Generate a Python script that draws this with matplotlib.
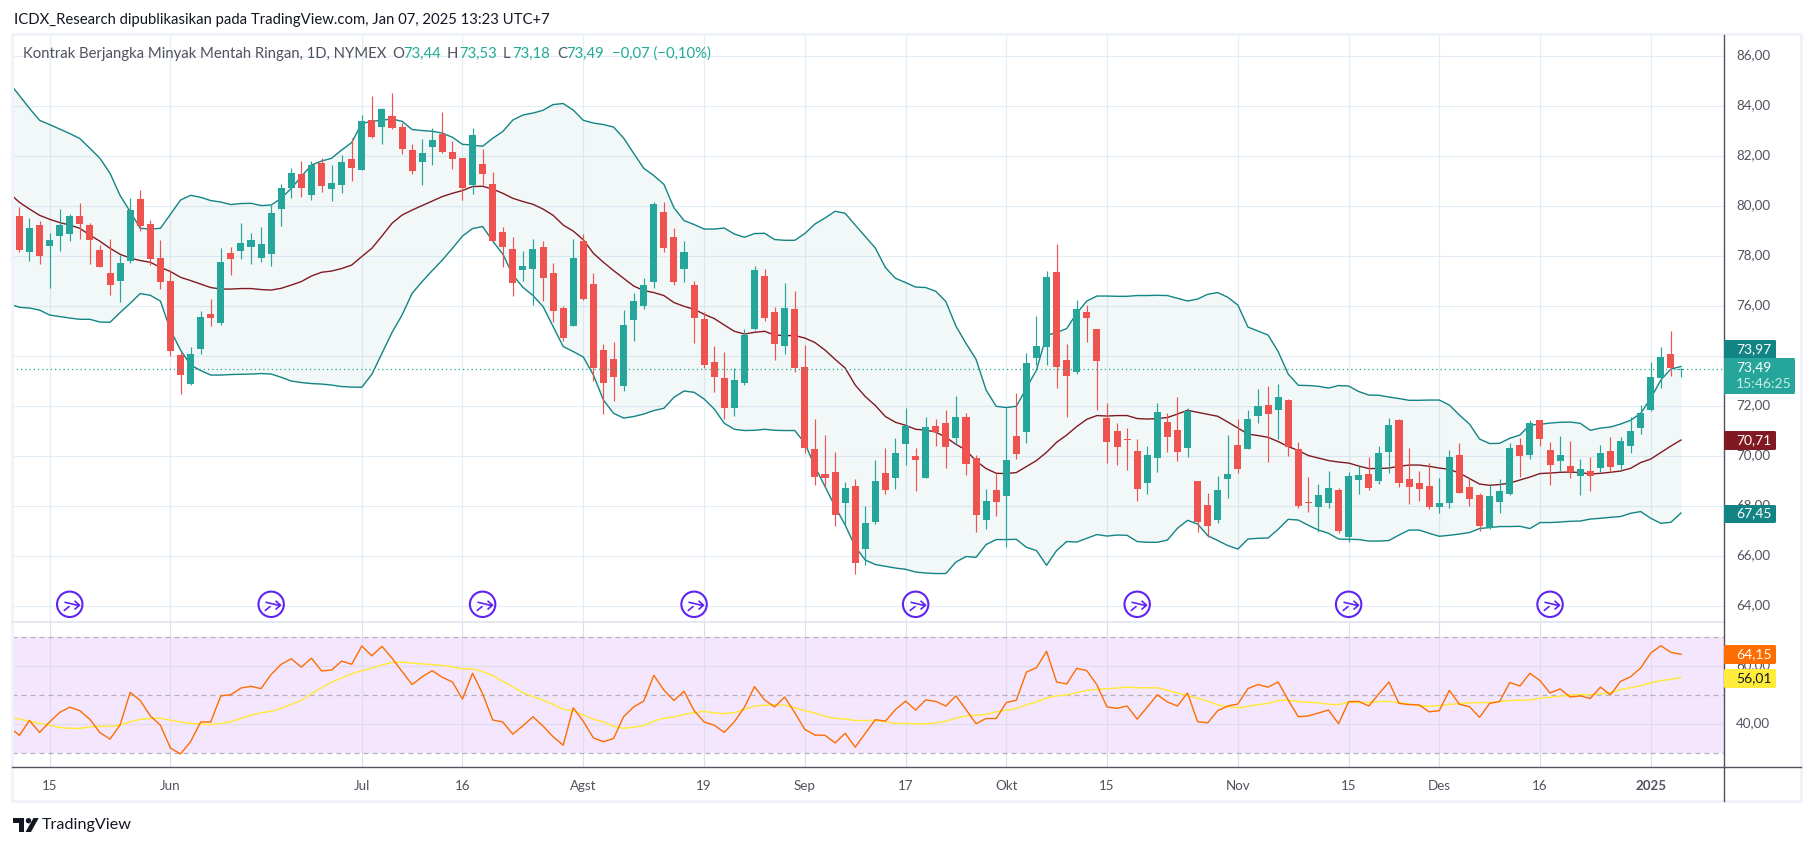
import matplotlib
matplotlib.use("Agg")
import matplotlib.pyplot as plt
from matplotlib.path import Path
from matplotlib.patches import Rectangle, FancyBboxPatch, Polygon, Circle
from matplotlib.transforms import ScaledTranslation
import numpy as np

# Daily candles, one value per trading day from May 10 2024 to Jan 7 2025.
opens = [
  79.61, 78.19, 79.25, 78.41, 78.81, 78.89, 79.61, 79.25, 78.25, 77.33,
  77.01, 77.81, 80.29, 79.29, 77.93, 77.01, 74.05, 72.89, 74.29, 75.69,
  75.33, 78.13, 78.21, 78.37, 77.93, 78.09, 79.89, 80.73, 81.29, 80.45,
  81.73, 80.69, 80.85, 81.89, 81.45, 83.45, 83.17, 83.61, 83.17, 82.25,
  81.77, 82.37, 82.91, 82.17, 81.93, 80.85, 81.69, 80.89, 78.97, 78.29,
  77.45, 77.49, 78.37, 77.33, 75.93, 75.21, 78.61, 76.89, 74.25, 73.89,
  72.81, 75.45, 76.01, 76.97, 79.77, 78.77, 77.49, 76.85, 75.49, 73.77,
  73.13, 71.93, 72.93, 75.09, 77.21, 75.77, 74.41, 75.89, 73.57, 70.29,
  69.29, 69.37, 68.13, 68.81, 66.29, 67.37, 69.33, 69.13, 70.49, 70.01,
  69.13, 71.21, 71.33, 70.73, 71.57, 69.93, 67.45, 68.65, 68.41, 70.81,
  70.97, 73.93, 74.37, 77.37, 73.85, 73.37, 75.77, 75.09, 71.53, 71.01,
  70.69, 70.21, 68.93, 69.93, 71.37, 71.05, 70.33, 69.01, 68.05, 67.45,
  69.09, 70.45, 70.29, 71.61, 72.05, 71.85, 72.25, 70.29, 68.17, 67.97,
  68.13, 68.65, 66.77, 69.05, 69.29, 69.01, 70.17, 71.45, 69.09, 68.93,
  68.81, 67.97, 68.13, 70.05, 68.77, 68.45, 67.13, 68.17, 68.49, 70.45,
  70.05, 71.45, 70.25, 69.81, 69.61, 69.21, 69.41, 69.53, 70.21, 69.65,
  70.41, 71.13, 71.85, 73.13, 74.09, 73.44,
]
highs = [
  79.99, 79.52, 79.41, 78.93, 79.89, 79.69, 80.13, 79.33, 78.45, 78.69,
  78.05, 80.33, 80.65, 79.45, 78.65, 77.45, 74.19, 74.37, 75.81, 76.29,
  78.33, 78.37, 79.33, 78.93, 79.17, 80.05, 80.89, 81.53, 81.81, 81.81,
  81.93, 81.65, 82.05, 82.73, 83.65, 84.41, 83.93, 84.53, 83.33, 82.49,
  82.69, 83.13, 83.77, 82.61, 81.93, 83.13, 82.29, 81.37, 79.17, 78.77,
  78.21, 78.69, 78.61, 77.73, 76.01, 78.69, 78.89, 77.33, 74.49, 74.57,
  75.85, 76.53, 77.13, 80.17, 80.17, 79.13, 78.61, 77.01, 75.77, 74.41,
  74.17, 73.53, 75.09, 77.61, 77.49, 75.97, 76.93, 76.61, 74.45, 71.49,
  70.85, 70.17, 68.97, 69.09, 68.01, 69.85, 70.33, 70.73, 71.93, 70.33,
  71.57, 71.49, 71.85, 72.41, 71.73, 70.05, 68.69, 69.29, 71.93, 72.53,
  74.13, 75.61, 77.41, 78.49, 74.49, 76.25, 76.05, 75.09, 72.13, 71.33,
  71.13, 70.69, 70.41, 72.13, 71.73, 72.37, 71.93, 69.01, 68.53, 69.21,
  70.85, 71.49, 71.85, 72.69, 72.81, 72.89, 72.29, 70.57, 69.17, 68.89,
  69.41, 68.73, 69.37, 69.61, 69.97, 70.41, 71.53, 71.49, 70.33, 69.41,
  69.73, 69.13, 70.25, 70.53, 69.13, 68.53, 68.85, 69.09, 70.53, 70.73,
  71.45, 71.45, 70.57, 70.81, 70.61, 69.89, 69.97, 70.45, 70.77, 70.77,
  71.57, 72.05, 73.77, 74.37, 75.01, 73.53,
]
lows = [
  78.19, 77.83, 77.71, 76.75, 78.21, 78.61, 78.69, 77.69, 77.57, 76.45,
  76.17, 77.73, 79.01, 77.65, 76.69, 74.01, 72.49, 72.85, 74.09, 75.21,
  75.25, 77.25, 77.89, 77.69, 77.77, 77.61, 79.21, 80.33, 80.37, 80.25,
  80.57, 80.21, 80.53, 81.01, 81.45, 82.73, 82.49, 83.09, 82.09, 81.29,
  80.85, 81.65, 82.13, 81.49, 80.25, 80.49, 80.85, 78.61, 77.57, 76.41,
  77.01, 76.05, 76.21, 75.37, 74.61, 75.21, 76.27, 73.01, 71.69, 72.21,
  72.61, 74.61, 75.89, 76.73, 78.17, 76.85, 76.97, 74.53, 73.53, 72.57,
  71.49, 71.61, 72.85, 75.05, 75.41, 73.85, 74.09, 73.37, 70.13, 68.85,
  68.77, 67.21, 67.25, 65.29, 65.65, 67.29, 68.49, 68.69, 69.65, 68.61,
  69.13, 70.41, 69.53, 70.49, 69.25, 66.97, 67.09, 67.61, 66.37, 69.89,
  70.53, 73.65, 73.65, 72.73, 71.57, 73.29, 74.57, 71.85, 69.73, 69.65,
  69.45, 68.21, 68.49, 69.37, 70.17, 69.81, 69.97, 66.97, 66.77, 67.33,
  68.33, 69.33, 70.29, 71.33, 69.77, 70.69, 70.01, 67.93, 67.77, 66.97,
  67.93, 66.93, 66.57, 68.49, 68.65, 68.89, 69.33, 68.77, 68.09, 68.21,
  67.89, 67.73, 67.93, 68.53, 68.01, 67.01, 67.09, 67.73, 68.45, 69.17,
  69.89, 70.41, 68.85, 69.41, 69.13, 68.45, 68.61, 69.37, 69.37, 69.49,
  70.13, 70.89, 71.81, 72.73, 73.21, 73.18,
]
closes = [
  78.25, 79.13, 78.01, 78.65, 79.25, 79.61, 79.29, 78.65, 77.57, 76.85,
  77.73, 79.85, 79.21, 77.89, 76.97, 74.21, 73.25, 74.09, 75.57, 75.53,
  77.77, 77.89, 78.53, 78.65, 78.49, 79.73, 80.73, 81.33, 80.73, 81.65,
  80.81, 80.93, 81.77, 81.53, 83.41, 82.77, 83.89, 83.13, 82.29, 81.41,
  82.13, 82.65, 82.17, 81.89, 80.73, 82.85, 81.29, 78.61, 78.37, 76.93,
  77.61, 78.29, 77.13, 75.81, 74.73, 77.93, 76.29, 73.52, 72.93, 73.17,
  75.25, 76.21, 76.85, 80.09, 78.33, 76.97, 78.17, 75.53, 73.65, 73.17,
  71.93, 73.05, 74.85, 77.45, 75.53, 74.49, 75.93, 73.53, 70.33, 69.17,
  69.13, 67.65, 68.73, 65.73, 67.33, 69.01, 68.65, 70.13, 71.21, 69.85,
  71.17, 70.96, 70.37, 71.57, 69.69, 67.65, 68.21, 68.17, 69.85, 70.09,
  73.73, 74.41, 77.17, 73.57, 73.21, 75.89, 75.53, 73.81, 70.57, 70.37,
  70.65, 68.69, 70.05, 71.77, 70.77, 70.17, 71.81, 67.37, 67.21, 68.65,
  69.29, 69.49, 71.49, 72.01, 71.69, 72.37, 70.37, 68.01, 68.13, 68.45,
  68.73, 67.01, 69.21, 69.25, 68.73, 70.13, 71.25, 68.93, 68.77, 68.69,
  67.97, 68.13, 69.97, 68.53, 68.29, 67.21, 68.41, 68.61, 70.33, 70.01,
  71.33, 70.69, 69.65, 70.05, 69.37, 69.49, 69.21, 70.13, 69.57, 70.61,
  71.01, 71.73, 73.17, 73.97, 73.53, 73.49,
]

# Bollinger bands, these start one day earlier, off the left edge of the chart.
bb_upper = [
  84.93, 84.43, 83.92, 83.44, 83.27, 83.09, 82.91, 82.71, 82.32, 81.92, 81.32,
  80.43, 79.79, 79.12, 79.09, 79.12, 79.68, 80.25, 80.44, 80.36, 80.23,
  80.17, 80.07, 80.11, 80.12, 80.03, 80.05, 80.32, 80.72, 81.19, 81.65,
  81.81, 81.92, 82.25, 82.55, 83.32, 83.39, 83.45, 83.49, 83.40, 83.07,
  83.03, 83.00, 82.93, 82.76, 82.48, 82.45, 82.40, 82.72, 82.99, 83.45,
  83.65, 83.73, 83.84, 84.07, 84.11, 83.85, 83.44, 83.33, 83.27, 83.17,
  82.73, 82.12, 81.52, 81.23, 80.88, 79.94, 79.43, 79.27, 79.09, 79.09,
  79.13, 78.89, 78.76, 78.91, 78.92, 78.67, 78.64, 78.64, 78.91, 79.29,
  79.53, 79.80, 79.72, 79.25, 78.79, 78.33, 77.55, 77.12, 76.95, 76.77,
  76.75, 76.60, 76.19, 75.21, 74.52, 73.88, 72.65, 72.00, 71.95, 72.00,
  72.73, 73.45, 74.84, 74.95, 75.11, 75.72, 76.21, 76.41, 76.41, 76.40,
  76.40, 76.43, 76.43, 76.44, 76.43, 76.32, 76.21, 76.29, 76.48, 76.55,
  76.36, 76.05, 75.17, 75.01, 74.85, 74.19, 73.29, 72.84, 72.83, 72.80,
  72.73, 72.83, 72.81, 72.59, 72.45, 72.44, 72.37, 72.31, 72.24, 72.24,
  72.25, 72.25, 72.05, 71.65, 71.29, 70.69, 70.51, 70.52, 70.72, 70.85,
  71.25, 71.28, 71.33, 71.36, 71.37, 71.32, 71.04, 71.13, 71.17, 71.29,
  71.44, 71.72, 72.32, 73.05, 73.49, 73.59,
]
bb_basis = [
  80.52, 80.16, 79.89, 79.64, 79.48, 79.35, 79.25, 79.12, 78.85, 78.60, 78.32,
  78.08, 77.93, 77.83, 77.76, 77.56, 77.39, 77.16, 77.03, 76.89, 76.75,
  76.69, 76.69, 76.71, 76.71, 76.67, 76.65, 76.72, 76.85, 76.99, 77.21,
  77.36, 77.41, 77.51, 77.65, 77.99, 78.32, 78.81, 79.32, 79.65, 79.85,
  80.03, 80.21, 80.39, 80.52, 80.63, 80.79, 80.80, 80.69, 80.52, 80.32,
  80.19, 80.08, 79.89, 79.64, 79.25, 79.01, 78.66, 78.12, 77.76, 77.43,
  77.12, 76.81, 76.63, 76.55, 76.43, 76.15, 76.00, 75.88, 75.68, 75.51,
  75.25, 75.00, 74.89, 74.96, 75.00, 74.85, 74.83, 74.83, 74.73, 74.55,
  74.25, 73.88, 73.53, 72.85, 72.39, 72.03, 71.59, 71.36, 71.24, 71.08,
  71.05, 70.97, 70.76, 70.48, 70.25, 69.81, 69.51, 69.32, 69.31, 69.35,
  69.59, 69.83, 70.16, 70.56, 70.85, 71.19, 71.48, 71.63, 71.61, 71.63,
  71.63, 71.51, 71.49, 71.51, 71.55, 71.69, 71.84, 71.76, 71.68, 71.60,
  71.37, 71.13, 70.89, 70.83, 70.76, 70.59, 70.39, 70.23, 70.03, 69.93,
  69.83, 69.77, 69.73, 69.61, 69.51, 69.51, 69.53, 69.60, 69.65, 69.65,
  69.60, 69.53, 69.48, 69.33, 69.11, 68.89, 68.84, 68.87, 68.93, 69.05,
  69.17, 69.31, 69.33, 69.36, 69.37, 69.35, 69.29, 69.32, 69.36, 69.41,
  69.52, 69.75, 69.89, 70.15, 70.41, 70.65,
]
bb_lower = [
  76.09, 75.96, 75.93, 75.85, 75.65, 75.59, 75.53, 75.48, 75.48, 75.37, 75.36,
  75.75, 76.12, 76.51, 76.44, 76.21, 75.05, 74.25, 73.65, 73.43, 73.25,
  73.25, 73.27, 73.28, 73.29, 73.31, 73.29, 73.16, 73.01, 72.95, 72.91,
  72.89, 72.85, 72.79, 72.77, 72.76, 73.28, 74.12, 74.95, 75.65, 76.52,
  76.99, 77.43, 77.85, 78.32, 78.81, 79.11, 79.19, 78.61, 78.09, 77.25,
  76.76, 76.43, 75.99, 75.19, 74.39, 74.19, 73.97, 73.25, 72.25, 71.72,
  71.53, 71.59, 71.69, 71.83, 71.92, 72.36, 72.61, 72.56, 72.29, 71.89,
  71.32, 71.08, 71.03, 71.04, 71.08, 71.04, 71.03, 71.03, 70.52, 69.59,
  68.79, 67.99, 67.25, 66.39, 65.85, 65.67, 65.60, 65.53, 65.48, 65.37,
  65.33, 65.31, 65.31, 65.77, 65.99, 65.96, 66.47, 66.67, 66.67, 66.68,
  66.36, 66.23, 65.64, 66.23, 66.59, 66.57, 66.72, 66.87, 66.81, 66.85,
  66.84, 66.59, 66.56, 66.56, 66.65, 67.12, 67.44, 67.29, 66.83, 66.63,
  66.43, 66.29, 66.69, 66.72, 66.73, 67.08, 67.48, 67.45, 67.24, 67.05,
  66.92, 66.69, 66.68, 66.67, 66.61, 66.61, 66.63, 66.85, 67.05, 67.05,
  66.92, 66.80, 66.84, 66.89, 66.95, 67.11, 67.15, 67.19, 67.19, 67.20,
  67.11, 67.35, 67.35, 67.37, 67.40, 67.41, 67.49, 67.52, 67.56, 67.59,
  67.72, 67.79, 67.52, 67.32, 67.36, 67.73,
]

rsi = [
  39.0, 36.2, 41.3, 37.2, 40.8, 44.1, 45.9, 44.7, 41.7, 37.1, 34.9,
  39.8, 51.0, 48.2, 42.9, 39.7, 31.8, 29.8, 34.0, 40.8, 40.8,
  49.8, 50.2, 52.5, 53.1, 52.3, 57.2, 60.7, 62.6, 59.7, 62.8,
  58.4, 58.7, 61.8, 60.7, 67.0, 63.6, 66.9, 62.8, 58.2, 53.7,
  56.4, 58.5, 56.2, 54.6, 48.7, 57.6, 50.5, 41.5, 40.8, 36.6,
  39.5, 42.6, 39.4, 35.7, 32.8, 45.7, 41.0, 35.3, 34.0, 35.1,
  42.6, 46.0, 48.0, 56.9, 51.8, 48.2, 51.4, 44.7, 40.8, 39.7,
  37.2, 40.9, 45.9, 53.0, 48.4, 46.0, 49.4, 44.0, 38.2, 36.3,
  36.2, 33.6, 36.9, 32.1, 36.9, 41.6, 41.1, 45.1, 48.0, 44.9,
  48.4, 47.9, 46.3, 49.8, 45.1, 40.2, 42.0, 42.0, 47.5, 48.3,
  58.0, 59.5, 65.2, 54.6, 53.9, 59.3, 58.5, 53.6, 46.0, 45.5,
  46.3, 41.8, 45.9, 50.2, 47.7, 46.3, 50.8, 40.9, 40.5, 44.7,
  46.3, 47.0, 52.3, 53.7, 52.8, 54.6, 48.4, 42.6, 42.9, 43.9,
  44.9, 40.2, 47.8, 47.9, 46.3, 50.5, 54.6, 47.2, 46.8, 46.7,
  44.3, 44.7, 51.7, 46.9, 46.1, 42.4, 47.2, 47.9, 54.4, 53.2,
  57.6, 55.1, 50.8, 52.2, 49.4, 49.8, 48.9, 52.8, 50.2, 54.8,
  56.4, 59.4, 64.6, 67.1, 64.8, 64.15,
]
rsi_ma = [
  42.5, 41.8, 41.1, 40.3, 39.7, 38.9, 38.6, 38.6, 39.1, 39.3, 39.3,
  39.7, 40.9, 41.7, 42.0, 42.1, 41.4, 40.8, 40.3, 40.1, 39.9,
  40.3, 40.9, 42.0, 43.1, 44.0, 44.5, 45.5, 46.9, 48.3, 50.5,
  52.6, 54.5, 56.0, 57.4, 58.5, 59.3, 60.5, 61.3, 61.4, 61.1,
  60.8, 60.6, 60.3, 59.8, 59.1, 59.1, 58.2, 56.8, 54.8, 52.9,
  50.9, 49.5, 48.3, 46.9, 45.2, 44.6, 43.2, 41.7, 40.8, 39.3,
  38.6, 39.0, 39.5, 41.1, 42.1, 42.5, 43.4, 44.0, 44.5, 43.9,
  43.7, 44.0, 45.1, 46.3, 46.6, 46.7, 46.6, 45.7, 44.7, 43.9,
  42.8, 42.1, 41.8, 41.3, 41.3, 41.3, 40.9, 40.3, 40.3, 40.2,
  40.1, 40.5, 41.0, 42.1, 42.9, 43.2, 43.4, 44.3, 44.9, 45.4,
  46.7, 47.7, 49.1, 49.8, 50.1, 50.9, 51.7, 52.0, 52.3, 52.5,
  52.8, 52.6, 52.6, 52.6, 51.7, 50.8, 49.9, 49.0, 48.0, 46.7,
  46.1, 45.7, 46.2, 46.8, 47.2, 48.2, 48.3, 47.8, 47.6, 47.4,
  46.9, 46.8, 47.6, 47.5, 47.5, 47.9, 47.9, 47.5, 47.0, 46.4,
  46.2, 46.4, 46.9, 47.1, 47.4, 47.5, 47.5, 47.8, 48.2, 48.3,
  48.4, 49.0, 49.3, 49.7, 50.0, 50.3, 50.2, 50.5, 50.9, 52.0,
  52.6, 53.3, 54.3, 55.1, 55.5, 56.2,
]

# Labels under the chart and the bars they sit on.
time_ticks = [3, 15, 34, 44, 56, 68, 78, 88, 98, 108, 121, 132, 141, 151, 162]
time_labels = ["15", "Jun", "Jul", "16", "Agst", "19", "Sep", "17", "Okt", "15",
               "Nov", "15", "Des", "16", "2025"]
price_ticks = list(range(64, 88, 2))
rsi_ticks = [40, 60]
rsi_bands = [30, 50, 70]
# Bars with an economic event icon, and the price level of the icon row.
event_bars = [5, 25, 46, 67, 89, 111, 132, 152]
event_level = 64.08
last_close = 73.49

up_color = "#26a69a"
down_color = "#ef5350"
band_color = "#138484"
basis_color = "#801922"
grid_color = "#e4edf4"
text_color = "#50535e"
value_color = "#22ab94"
frame_color = "#f0f3fa"
font = "Lato"

W, H = 1814, 846
# Bar position is 19.4 + 10.07 * index pixels from the left.
BAR0, BAR_STEP = 19.4, 10.07


def pane(fig, left, top, right, bottom):
  return fig.add_axes([left / W, 1 - bottom / H, (right - left) / W, (bottom - top) / H])


def bar_index(px):
  return (px - BAR0) / BAR_STEP


def style_pane(ax):
  ax.set_xlim(bar_index(12), bar_index(1724))
  for spine in ax.spines.values():
    spine.set_visible(False)
  ax.set_xticks(time_ticks)
  ax.yaxis.tick_right()
  ax.tick_params(length=0, labelcolor=text_color, labelsize=9.6, pad=8.6)
  ax.grid(True, color=grid_color, linewidth=0.85)
  ax.set_axisbelow(True)


def lift_labels(ax):
  # The price labels sit a little above their gridlines.
  lift = ScaledTranslation(0, 0.02, ax.figure.dpi_scale_trans)
  for label in ax.get_yticklabels():
    label.set_transform(label.get_transform() + lift)


def draw_main(ax):
  bars = np.arange(len(opens))
  line_x = np.arange(-1, len(opens))
  o, c = np.array(opens), np.array(closes)
  colors = np.where(c >= o, up_color, down_color)

  ax.fill_between(line_x, bb_lower, bb_upper, color=band_color, alpha=0.05, linewidth=0, zorder=1.5)
  ax.plot(line_x, bb_upper, color=band_color, linewidth=1.0, zorder=2)
  ax.plot(line_x, bb_lower, color=band_color, linewidth=1.0, zorder=2)
  ax.plot(line_x, bb_basis, color=basis_color, linewidth=1.0, zorder=2)

  ax.vlines(bars, lows, highs, colors=colors, linewidth=0.85, zorder=3)
  ax.bar(bars, c - o, bottom=o, width=0.7, color=colors, linewidth=0, zorder=4)

  ax.axhline(last_close, color=value_color, linewidth=0.9, linestyle=(0, (1, 2.4)), zorder=5)

  # Event icons: a ring with an arrow inside.
  arrow = Path(
    [(-6, 2.3), (8, -1), (4, 3.7), (9, -0.7), (4, -5), (-6.7, -6.3), (-1, -1.7)],
    [Path.MOVETO, Path.LINETO, Path.MOVETO, Path.LINETO, Path.LINETO, Path.MOVETO, Path.LINETO],
  )
  levels = [event_level] * len(event_bars)
  ax.scatter(event_bars, levels, s=335, facecolors="none", edgecolors="#6023f5", linewidths=1.5, zorder=6)
  ax.plot(event_bars, levels, linestyle="none", marker=arrow, ms=13, mfc="none", mec="#6023f5", mew=1.2, zorder=6)

  style_pane(ax)
  ax.set_ylim(84 - (622 - 106.3) / 25, 84 + (106.3 - 34) / 25)
  ax.set_yticks(price_ticks)
  ax.set_yticklabels([f"{p},00" for p in price_ticks], fontfamily=font)
  ax.tick_params(axis="x", labelbottom=False)
  lift_labels(ax)


def draw_rsi(ax):
  line_x = np.arange(-1, len(opens))

  ax.axhspan(rsi_bands[0], rsi_bands[-1], color="#f4e6fd", linewidth=0, zorder=0.5)
  for level in rsi_bands:
    ax.axhline(level, color="#b5b0bb", linewidth=0.9, linestyle=(0, (4, 3.2)), zorder=1.5)

  ax.plot(line_x, rsi_ma, color="#ffe93b", linewidth=1.05, zorder=2)
  ax.plot(line_x, rsi, color="#ff6d00", linewidth=1.0, zorder=3)

  style_pane(ax)
  ax.grid(True, color="#dfdcf1", linewidth=0.85, zorder=1)
  ax.set_ylim(50 - (767 - 695.3) / 2.9, 50 + (695.3 - 622) / 2.9)
  ax.set_yticks(rsi_ticks)
  ax.set_yticklabels([f"{v},00" for v in rsi_ticks], fontfamily=font)
  ax.set_xticklabels(time_labels, fontfamily=font)
  ax.get_xticklabels()[-1].set_fontweight("bold")
  ax.tick_params(axis="x", pad=9.5)
  lift_labels(ax)


def price_box(over, top, bottom, right, color, text, text_col="white"):
  box = FancyBboxPatch((1724, top), right - 1724, bottom - top, boxstyle="round,pad=0,rounding_size=1.5",
                       facecolor=color, edgecolor="none", zorder=3)
  over.add_patch(box)
  over.text(1736, (top + bottom) / 2 - 0.5, text, color=text_col, fontsize=10, fontfamily=font,
            va="center", ha="left", zorder=4)


def draw_overlay(over):
  over.set_xlim(0, W)
  over.set_ylim(H, 0)
  over.axis("off")

  # Frame of the chart and its axes lines.
  over.add_patch(Rectangle((12, 34), 1789, 767.5, fill=False, edgecolor=frame_color, linewidth=2.2))
  over.plot([12, 1724], [622, 622], color="#e6e8f0", linewidth=1.4)
  over.plot([12, 1801], [767, 767], color="#50535e", linewidth=1.0)
  over.plot([1724, 1724], [35, 801], color="#50535e", linewidth=1.0)

  # Header and legend.
  over.text(14, 20, "ICDX_Research dipublikasikan pada TradingView.com, Jan 07, 2025 13:23 UTC+7",
            color="#131722", fontsize=10.75, fontfamily=font, va="center")
  over.text(23, 54, "Kontrak Berjangka Minyak Mentah Ringan, 1D, NYMEX",
            color=text_color, fontsize=10.75, fontfamily=font, va="center")
  for x, letter, x_val, val in [(392, "O", 403, "73,44"), (447, "H", 459, "73,53"),
                                (503, "L", 512, "73,18"), (557, "C", 566, "73,49")]:
    over.text(x, 54, letter, color=text_color, fontsize=10.75, fontfamily=font, va="center")
    over.text(x_val, 54, val, color=value_color, fontsize=10.75, fontfamily=font, va="center")
  over.text(612, 54, "\u22120,07 (\u22120,10%)", color=value_color, fontsize=10.75, fontfamily=font, va="center")

  # Last values on the price axis.
  price_box(over, 340, 359, 1776, "#138484", "73,97")
  price_box(over, 431, 450, 1776, "#801922", "70,71")
  price_box(over, 505, 523, 1776, "#138484", "67,45")
  over.add_patch(FancyBboxPatch((1724, 358), 71, 36, boxstyle="round,pad=0,rounding_size=1.5",
                                facecolor="#26a69a", edgecolor="none", zorder=3))
  over.text(1736, 367, "73,49", color="white", fontsize=10, fontfamily=font, va="center", zorder=4)
  over.text(1736, 384, "15:46:25", color="#c9ede8", fontsize=10, fontfamily=font, va="center", zorder=4)
  price_box(over, 645, 664, 1776, "#ff6d00", "64,15")
  price_box(over, 669, 688, 1776, "#ffeb3b", "56,01", "#131722")

  # TradingView logo.
  over.add_patch(Polygon([(13.3, 818), (24, 818), (24, 832), (18.5, 832), (18.5, 823), (13.3, 823)],
                         facecolor="#131722", edgecolor="none"))
  over.add_patch(Circle((28.5, 820.7), 2.7, facecolor="#131722", edgecolor="none"))
  over.add_patch(Polygon([(33.5, 818), (38.7, 818), (31, 832), (25.5, 832)], facecolor="#131722", edgecolor="none"))
  over.text(42, 825, "TradingView", color="#131722", fontsize=11.6, fontfamily=font, va="center")


def main():
  fig = plt.figure(figsize=(W / 100, H / 100), dpi=100, facecolor="white")

  draw_main(pane(fig, 12, 34, 1724, 622))
  draw_rsi(pane(fig, 12, 622, 1724, 767))

  over = fig.add_axes([0, 0, 1, 1], facecolor="none")
  draw_overlay(over)

  fig.savefig("out.png", dpi=100)


if __name__ == "__main__":
  main()
